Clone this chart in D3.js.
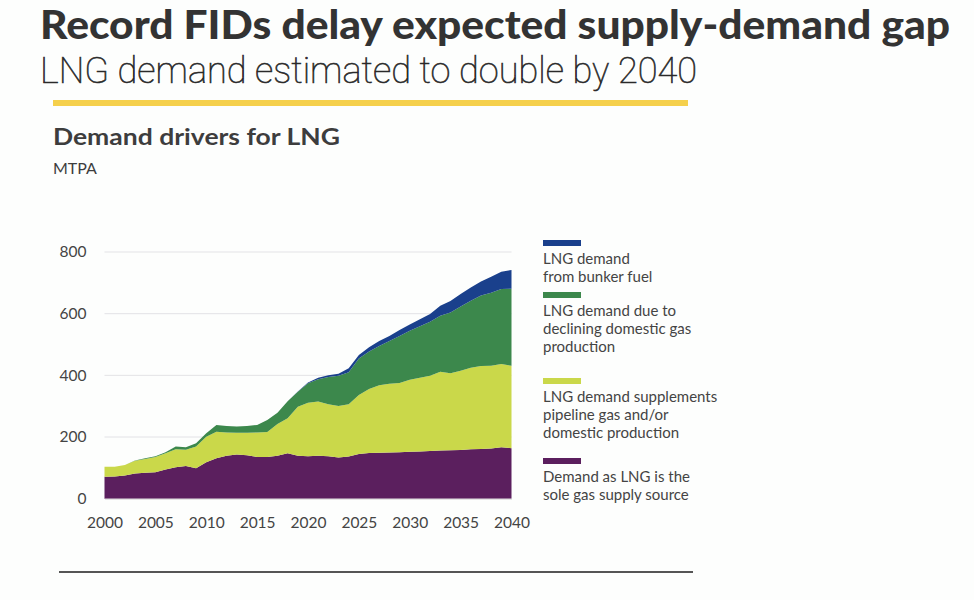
<!DOCTYPE html>
<html lang="en">

<head>
    <meta charset="utf-8">
    <script src="https://d3js.org/d3.v7.min.js"></script>
    <style>
        body { margin: 0; background: #fdfefd; }
        text { font-family: "Lato", "Open Sans", sans-serif; fill: #3d3d3d; }
    </style>
</head>

<body>
    <script>
        // Data (MTPA)
        const years = d3.range(2000, 2041);
        const soleSource = [71, 72, 75, 82, 84, 86, 95, 102, 106, 99, 118, 131, 139, 143, 141, 135, 135, 139, 147, 139,
            138, 139, 138, 134, 137, 145, 148, 149, 150, 151, 152, 153, 155, 156, 157, 158, 160, 161, 163, 167, 164];
        const supplements = [33, 32, 34, 41, 45, 49, 52, 58, 53, 70, 83, 86, 76, 71, 73, 80, 81, 103, 114, 159,
            173, 176, 168, 167, 169, 191, 208, 219, 223, 224, 234, 239, 244, 256, 250, 257, 265, 269, 268, 270, 267];
        const declining = [0, 0, 0, 1, 2, 3, 4, 9, 8, 11, 11, 22, 21, 20, 22, 24, 39, 37, 55, 49,
            63, 72, 89, 98, 104, 119, 121, 127, 138, 153, 159, 167, 175, 181, 197, 208, 217, 229, 237, 243, 250];
        const bunker = [0, 0, 0, 0, 0, 0, 0, 0, 0, 0, 0, 0, 0, 0, 0, 0, 0, 0, 0, 1,
            3, 5, 5, 6, 13, 11, 14, 16, 17, 19, 20, 23, 25, 33, 37, 41, 43, 45, 52, 56, 61];
        const yTicks = [0, 200, 400, 600, 800];
        const xTicks = [2000, 2005, 2010, 2015, 2020, 2025, 2030, 2035, 2040];

        const keys = ["sole", "supp", "decl", "bunker"];
        const colors = { sole: "#5b1f5e", supp: "#cad84a", decl: "#3c884c", bunker: "#1a408c" };
        const legendItems = [
            { key: "bunker", lines: ["LNG demand", "from bunker fuel"] },
            { key: "decl", lines: ["LNG demand due to", "declining domestic gas", "production"] },
            { key: "supp", lines: ["LNG demand supplements", "pipeline gas and/or", "domestic production"] },
            { key: "sole", lines: ["Demand as LNG is the", "sole gas supply source"] }
        ];

        const table = years.map((yr, i) => ({
            year: yr, sole: soleSource[i], supp: supplements[i], decl: declining[i], bunker: bunker[i]
        }));

        const width = 974, height = 600;
        const svg = d3.select("body").append("svg")
            .attr("width", width).attr("height", height);

        // Headings
        svg.append("text").attr("x", 40).attr("y", 39)
            .attr("textLength", 910).attr("lengthAdjust", "spacingAndGlyphs")
            .style("font-size", "39px").style("font-weight", 900).style("fill", "#333")
            .text("Record FIDs delay expected supply-demand gap");
        svg.append("text").attr("x", 40).attr("y", 83)
            .attr("textLength", 657).attr("lengthAdjust", "spacingAndGlyphs")
            .style("font-family", "Roboto, sans-serif")
            .style("font-size", "36.5px").style("font-weight", 100).style("fill", "#2a2a2a")
            .style("stroke", "#2a2a2a").style("stroke-width", 0.6)
            .text("LNG demand estimated to double by 2040");
        svg.append("rect").attr("x", 53).attr("y", 100).attr("width", 635).attr("height", 6)
            .attr("fill", "#f5d04c");

        svg.append("text").attr("x", 53).attr("y", 145)
            .attr("textLength", 287).attr("lengthAdjust", "spacingAndGlyphs")
            .style("font-size", "23px").style("font-weight", 700)
            .text("Demand drivers for LNG");
        svg.append("text").attr("x", 53).attr("y", 174)
            .style("font-size", "16px")
            .text("MTPA");

        // Scales
        const x = d3.scaleLinear().domain([2000, 2040]).range([104.5, 511.5]);
        const y = d3.scaleLinear().domain([0, 800]).range([498.7, 252]);

        // Gridlines
        svg.append("g").selectAll("line").data(yTicks.filter(d => d > 0)).join("line")
            .attr("x1", x(2000)).attr("x2", x(2040))
            .attr("y1", d => y(d)).attr("y2", d => y(d))
            .attr("stroke", "#e3e3e6").attr("stroke-width", 1);

        // Stacked areas
        const series = d3.stack().keys(keys)(table);
        const area = d3.area()
            .x(d => x(d.data.year))
            .y0(d => y(d[0]))
            .y1(d => y(d[1]));
        svg.append("g").selectAll("path").data(series).join("path")
            .attr("fill", d => colors[d.key])
            .attr("d", area);

        // Axes
        const yAxis = svg.append("g")
            .attr("transform", `translate(${x(2000)},0)`)
            .call(d3.axisLeft(y).tickValues(yTicks).tickSize(0).tickPadding(18));
        yAxis.select(".domain").remove();
        yAxis.selectAll("text").style("font-size", "15.5px").style("fill", "#444")
            .style("font-family", "Lato, sans-serif");

        const xAxis = svg.append("g")
            .attr("transform", `translate(0,${y(0)})`)
            .call(d3.axisBottom(x).tickValues(xTicks).tickFormat(d3.format("d")).tickSize(0).tickPadding(18));
        xAxis.select(".domain").attr("stroke", "#d8d8d8");
        xAxis.selectAll("text").style("font-size", "15.5px").style("fill", "#444")
            .style("font-family", "Lato, sans-serif");

        // Legend
        const legendTop = [240, 292, 378, 458];
        const legend = svg.append("g");
        legendItems.forEach((item, i) => {
            const g = legend.append("g").attr("transform", `translate(543,${legendTop[i]})`);
            g.append("rect").attr("width", 38).attr("height", 6).attr("fill", colors[item.key]);
            item.lines.forEach((ln, j) => {
                g.append("text").attr("x", 0).attr("y", 24 + j * 18)
                    .style("font-size", "15px").style("fill", "#444")
                    .text(ln);
            });
        });

        // Bottom rule
        svg.append("line").attr("x1", 59).attr("x2", 693).attr("y1", 572).attr("y2", 572)
            .attr("stroke", "#555").attr("stroke-width", 2);
    </script>
</body>

</html>
